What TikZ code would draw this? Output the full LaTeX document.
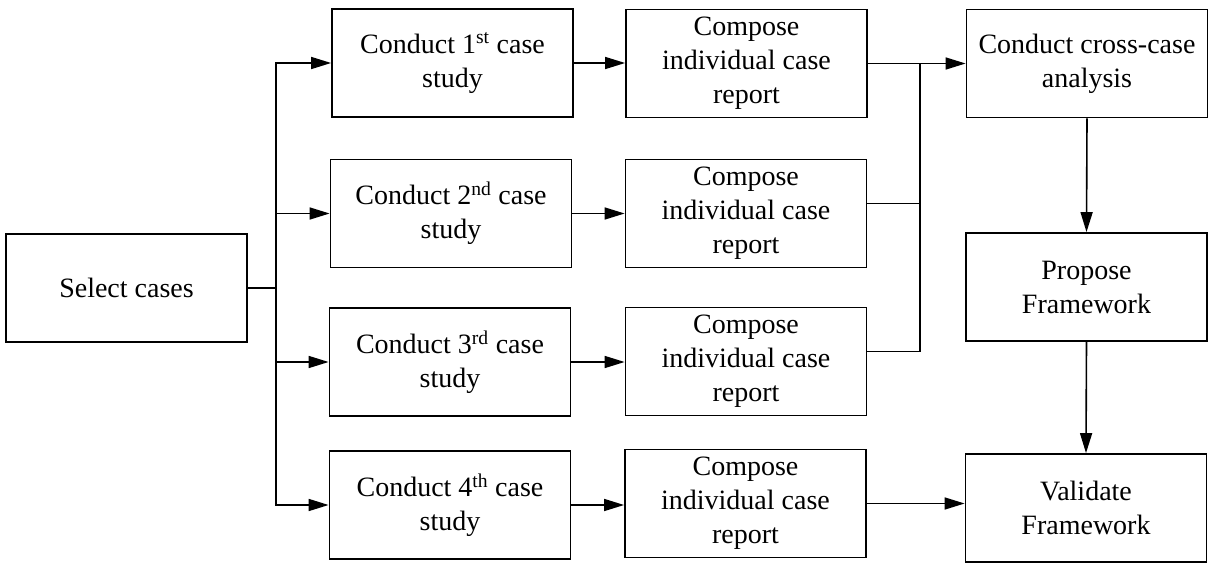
\documentclass[tikz,border=0pt]{standalone}
\usepackage{fontspec}
\setmainfont{Liberation Serif}
\usetikzlibrary{arrows.meta}
\begin{document}
\begin{tikzpicture}[x=1pt,y=-1pt,
  box/.style={draw, line width=1.8pt, minimum width=241pt, minimum height=108pt,
    inner sep=0pt, align=center, font=\fontsize{28}{34}\selectfont},
  link/.style={line width=1.6pt},
  arr/.style={link, -{Triangle[length=20pt,width=12pt]}}]
\useasboundingbox (0,0) rectangle (1213,564);

% case selection
\node[box] (sel) at (126.5,288) {Select cases};

% individual case studies
\node[box] (c1) at (452.5,63)  {Conduct 1\textsuperscript{st} case\\study};
\node[box] (c2) at (451,213.5) {Conduct 2\textsuperscript{nd} case\\study};
\node[box] (c3) at (450,362)   {Conduct 3\textsuperscript{rd} case\\study};
\node[box] (c4) at (450,505)   {Conduct 4\textsuperscript{th} case\\study};

% case reports
\node[box] (r1) at (746.5,63.5) {Compose\\individual case\\report};
\node[box] (r2) at (746,213.5)  {Compose\\individual case\\report};
\node[box] (r3) at (746,361.5)  {Compose\\individual case\\report};
\node[box] (r4) at (745.5,503.5){Compose\\individual case\\report};

% synthesis
\node[box] (cross) at (1087,63.5) {Conduct cross-case\\analysis};
\node[box] (prop)  at (1086.5,287) {Propose\\Framework};
\node[box] (val)   at (1086,508)   {Validate\\Framework};

% branch from selection to the four studies
\coordinate (bx) at (276,288);
\draw[link] (sel.east) -- (bx);
\draw[arr] (bx) |- (c1.west);
\draw[arr] (bx) |- (c2.west);
\draw[arr] (bx) |- (c3.west);
\draw[arr] (bx) |- (c4.west);

% studies to reports
\draw[arr] (c1.east) -- (r1.west |- c1.east);
\draw[arr] (c2.east) -- (r2.west |- c2.east);
\draw[arr] (c3.east) -- (r3.west |- c3.east);
\draw[arr] (c4.east) -- (r4.west |- c4.east);

% first three reports join into the cross-case analysis
\coordinate (jx) at (920,63.5);
\draw[arr] (r1.east) -- (cross.west |- r1.east);
\draw[link] ([yshift=10pt]r2.east) -- ([yshift=10pt]r2.east -| jx);
\draw[link] ([yshift=10pt]r3.east) -| (jx);

% framework steps
\draw[arr] (cross.south) -- (prop.north);
\draw[arr] (prop.south) -- (val.north);
\draw[arr] (r4.east) -- (val.west |- r4.east);
\end{tikzpicture}
\end{document}
